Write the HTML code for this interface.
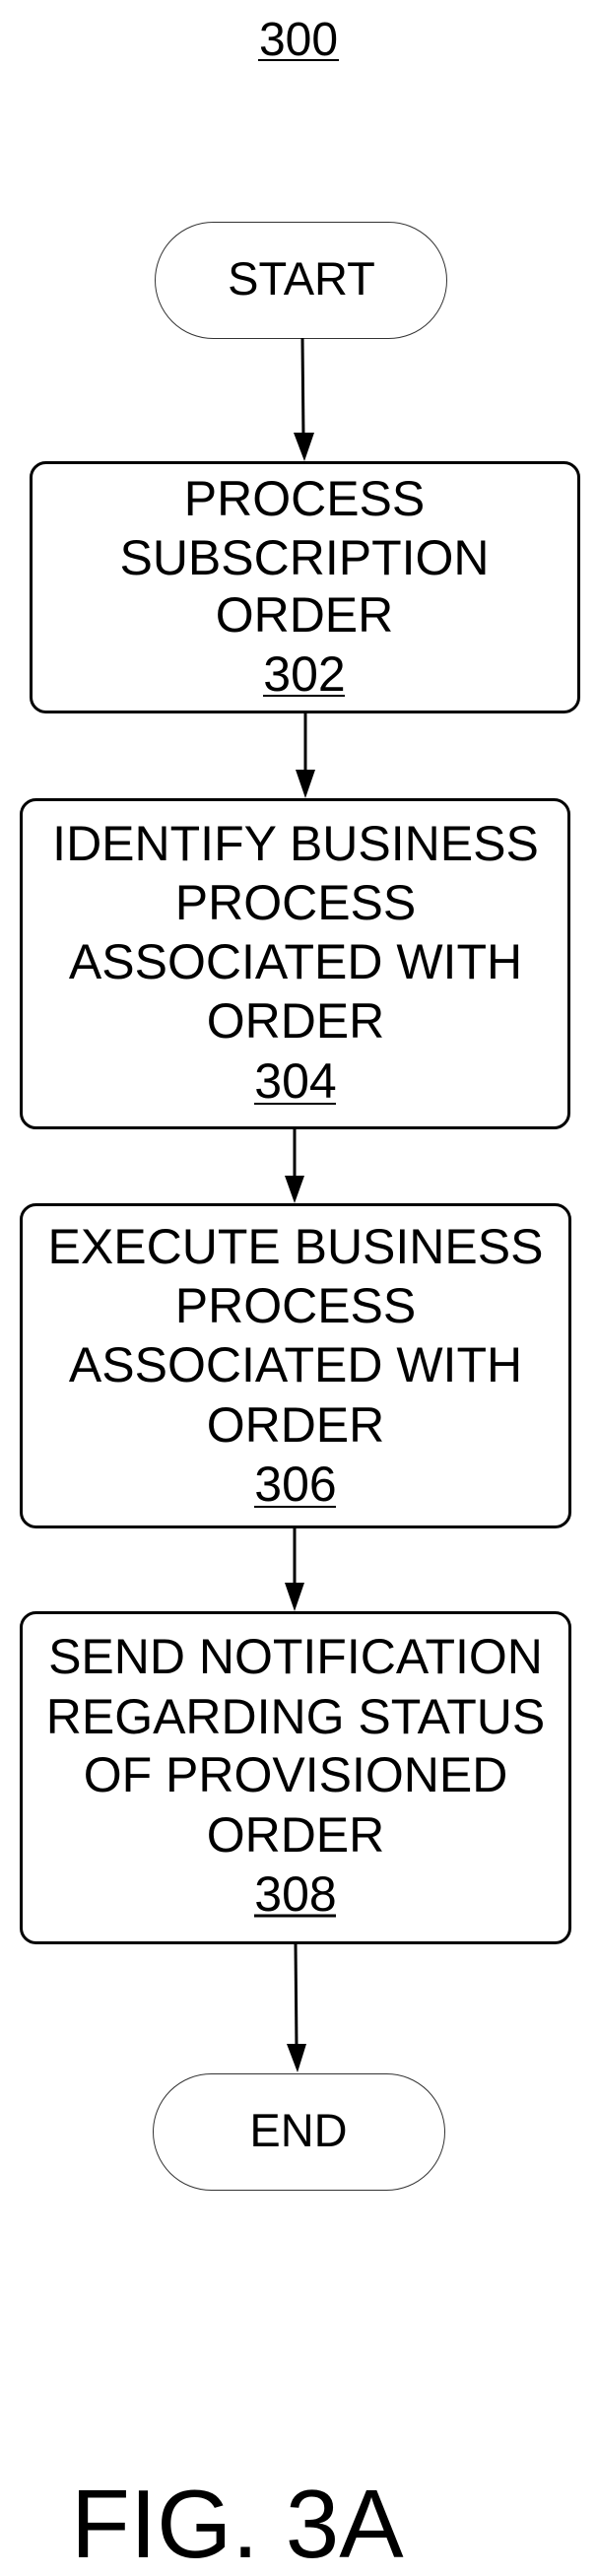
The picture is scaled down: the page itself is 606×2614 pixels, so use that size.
<!DOCTYPE html>
<html><head><meta charset="utf-8"><style>html,body{margin:0;padding:0;background:#fff}svg{display:block}</style></head>
<body>
<svg width="606" height="2614" viewBox="0 0 606 2614" xmlns="http://www.w3.org/2000/svg" font-family="Liberation Sans, Arial, sans-serif" fill="#000">
<text x="303" y="56" font-size="48" text-anchor="middle">300</text>
<line x1="262" y1="61" x2="344" y2="61" stroke="#000" stroke-width="2"/>

<rect x="157.5" y="225.5" width="296" height="118" rx="59" fill="#fff" stroke="#333" stroke-width="1"/>
<text x="306" y="299" font-size="47" text-anchor="middle">START</text>
<line x1="307" y1="343" x2="308" y2="445" stroke="#000" stroke-width="3"/>
<polygon points="298,439 319,439 309,468"/>

<rect x="31.5" y="469.5" width="556" height="253" rx="15" fill="none" stroke="#000" stroke-width="3"/>
<g font-size="50" text-anchor="middle">
<text x="309" y="523">PROCESS</text>
<text x="309" y="583">SUBSCRIPTION</text>
<text x="309" y="641">ORDER</text>
<text x="309" y="701">302</text>
</g>
<line x1="267" y1="706" x2="350" y2="706" stroke="#000" stroke-width="2"/>
<line x1="310" y1="723" x2="310" y2="786" stroke="#000" stroke-width="3"/>
<polygon points="300,781 320,781 310,810"/>

<rect x="21.5" y="811.5" width="556" height="333" rx="15" fill="none" stroke="#000" stroke-width="3"/>
<g font-size="50" text-anchor="middle">
<text x="300" y="873">IDENTIFY BUSINESS</text>
<text x="300" y="933">PROCESS</text>
<text x="300" y="993">ASSOCIATED WITH</text>
<text x="300" y="1053">ORDER</text>
<text x="300" y="1114">304</text>
</g>
<line x1="258" y1="1120" x2="341" y2="1120" stroke="#000" stroke-width="2"/>
<line x1="299" y1="1145" x2="299" y2="1198" stroke="#000" stroke-width="3"/>
<polygon points="289,1193 309,1193 299,1221"/>

<rect x="21.5" y="1222.5" width="557" height="327" rx="15" fill="none" stroke="#000" stroke-width="3"/>
<g font-size="50" text-anchor="middle">
<text x="300" y="1282">EXECUTE BUSINESS</text>
<text x="300" y="1342">PROCESS</text>
<text x="300" y="1402">ASSOCIATED WITH</text>
<text x="300" y="1463">ORDER</text>
<text x="300" y="1523">306</text>
</g>
<line x1="258" y1="1529" x2="341" y2="1529" stroke="#000" stroke-width="2"/>
<line x1="299" y1="1550" x2="299" y2="1610" stroke="#000" stroke-width="3"/>
<polygon points="289,1606 309,1606 299,1635"/>

<rect x="21.5" y="1636.5" width="557" height="335" rx="15" fill="none" stroke="#000" stroke-width="3"/>
<g font-size="50" text-anchor="middle">
<text x="300" y="1698">SEND NOTIFICATION</text>
<text x="300" y="1759">REGARDING STATUS</text>
<text x="300" y="1818">OF PROVISIONED</text>
<text x="300" y="1879">ORDER</text>
<text x="300" y="1939">308</text>
</g>
<line x1="258" y1="1944" x2="341" y2="1944" stroke="#000" stroke-width="3"/>
<line x1="300" y1="1972" x2="301" y2="2078" stroke="#000" stroke-width="3"/>
<polygon points="291,2074 311,2074 302,2103"/>

<rect x="155.5" y="2104.5" width="296" height="118" rx="59" fill="#fff" stroke="#333" stroke-width="1"/>
<text x="303" y="2178" font-size="47" text-anchor="middle">END</text>

<text x="72" y="2595" font-size="98">FIG. 3A</text>
</svg>
</body></html>
